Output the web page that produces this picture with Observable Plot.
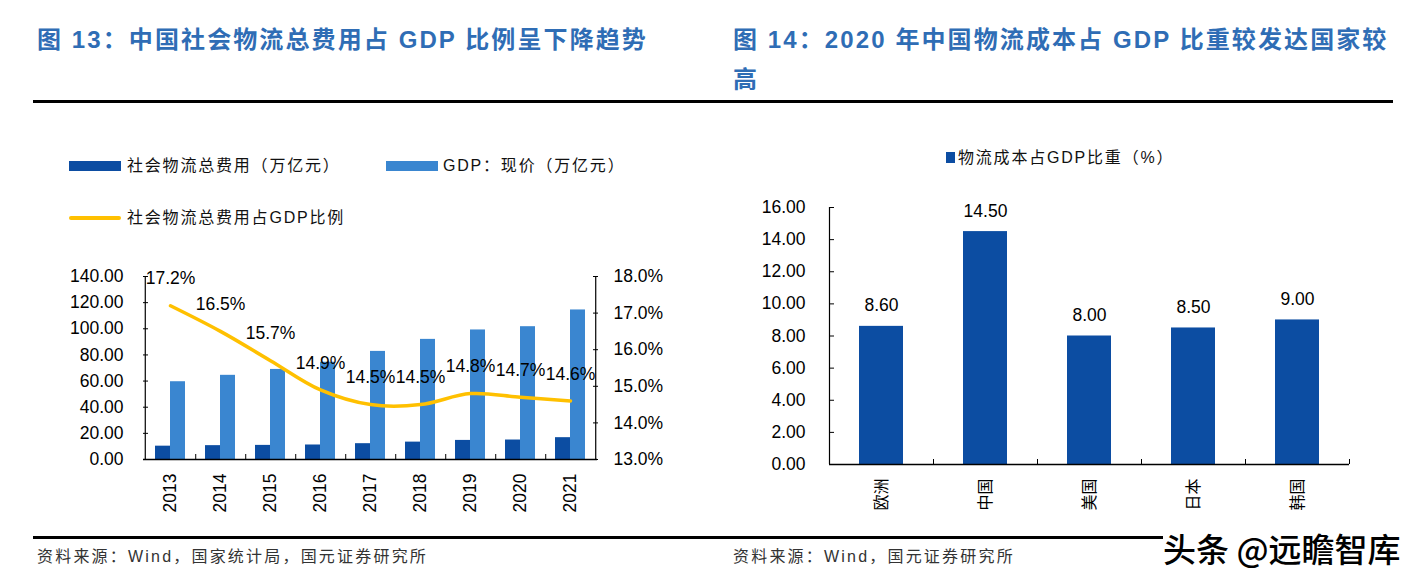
<!DOCTYPE html>
<html>
<head>
<meta charset="utf-8">
<script src="https://cdn.jsdelivr.net/npm/d3@7"></script>
<script src="https://cdn.jsdelivr.net/npm/@observablehq/plot@0.6"></script>
<style>
  body { margin: 0; background: #fff; }
  #root { position: relative; width: 1411px; height: 587px; overflow: hidden; background: #fff;
          font-family: "Liberation Sans", "Noto Sans CJK SC", sans-serif; }
  .abs { position: absolute; white-space: nowrap; line-height: 1; }
  .title { font-weight: bold; font-size: 24px; color: #2F6DB5; letter-spacing: 2.1px; }
  .legend { font-size: 16px; color: #111; letter-spacing: 1.8px; }
  .caption { font-size: 16px; color: #333; letter-spacing: 2.2px; }
  .rule { position: absolute; background: #000; }
  .wm { font-size: 33px; color: #000; font-family: "Noto Sans CJK SC", sans-serif; font-weight: 500;
        text-shadow: 0 0 2px #fff, 0 0 2px #fff, 0 0 3px #fff; }
  svg { overflow: visible; }
</style>
</head>
<body>
<div id="root">
  <div class="abs title" style="left:37px; top:28px;">图 13：中国社会物流总费用占 GDP 比例呈下降趋势</div>
  <div class="abs title" style="left:733px; top:28px;">图 14：2020 年中国物流成本占 GDP 比重较发达国家较</div>
  <div class="abs title" style="left:733px; top:68px;">高</div>
  <div class="rule" style="left:33px; top:100px; width:1360px; height:3px;"></div>

  <div class="abs" style="left:69px; top:161px; width:52px; height:10px; background:#0C4DA2;"></div>
  <div class="abs legend" style="left:127px; top:158px;">社会物流总费用（万亿元）</div>
  <div class="abs" style="left:386px; top:161px; width:52px; height:10px; background:#3A86D0;"></div>
  <div class="abs legend" style="left:443px; top:158px;">GDP：现价（万亿元）</div>
  <div class="abs" style="left:69px; top:216px; width:52px; height:4px; background:#FFC000; border-radius:2px;"></div>
  <div class="abs legend" style="left:127px; top:210px;">社会物流总费用占GDP比例</div>

  <div class="abs" style="left:946px; top:152px; width:9px; height:11px; background:#0C4DA2;"></div>
  <div class="abs legend" style="left:958px; top:150px;">物流成本占GDP比重（%）</div>

  <div id="left" class="abs" style="left:0px; top:250px;"></div>
  <div id="right" class="abs" style="left:705px; top:190px;"></div>

  <div class="rule" style="left:33px; top:536px; width:1130px; height:3px;"></div>
  <div class="abs caption" style="left:37px; top:549px;">资料来源：Wind，国家统计局，国元证券研究所</div>
  <div class="abs caption" style="left:733px; top:549px;">资料来源：Wind，国元证券研究所</div>
  <div class="abs wm" style="left:1163px; top:532px;">头条 @远瞻智库</div>
</div>
<script>
// ---------- Data: 图13 ----------
const years = ["2013", "2014", "2015", "2016", "2017", "2018", "2019", "2020", "2021"];
const logisticsCost = [10.2, 10.6, 10.8, 11.1, 12.1, 13.3, 14.6, 14.9, 16.7];      // 社会物流总费用（万亿元）
const gdpValues = [59.5, 64.4, 68.9, 74.4, 82.7, 91.9, 99.1, 101.6, 114.4];      // GDP：现价（万亿元）
const costRatio = [17.2, 16.5, 15.7, 14.9, 14.5, 14.5, 14.8, 14.7, 14.6];          // 社会物流总费用占GDP比例（%）
const leftTicks = [0, 20, 40, 60, 80, 100, 120, 140];
const rightTicks = [13, 14, 15, 16, 17, 18];

// ---------- Data: 图14 ----------
const countries = ["欧洲", "中国", "美国", "日本", "韩国"];
const shares = [8.6, 14.5, 8.0, 8.5, 9.0];                                        // 物流成本占GDP比重（%）
const shareTicks = [0, 2, 4, 6, 8, 10, 12, 14, 16];

const DARK = "#0C4DA2", LIGHT = "#3A86D0", GOLD = "#FFC000";
const LATIN = "Liberation Sans, Arial, sans-serif";
const CJK = "Noto Sans CJK SC, sans-serif";

// map right-axis percent onto left-axis domain (dual axis)
const rMin = rightTicks[0], rMax = rightTicks[rightTicks.length - 1];
const lMax = leftTicks[leftTicks.length - 1];
const toLeft = p => (p - rMin) / (rMax - rMin) * lMax;
const toRight = v => rMin + v / lMax * (rMax - rMin);

const rows = years.map((y, i) => ({year: y, cost: logisticsCost[i], gdp: gdpValues[i], ratio: costRatio[i], r: toLeft(costRatio[i])}));

{
  const W = 705, H = 290, mL = 143, mR = 108, mT = 26, mB = 81;
  const step = (W - mL - mR) / years.length;
  const padInner = 0.405;
  const bw = step * (1 - padInner);
  const chart = Plot.plot({
    width: W, height: H, marginLeft: mL, marginRight: mR, marginTop: mT, marginBottom: mB,
    style: {fontFamily: LATIN, fontSize: "17.5px", color: "#000", background: "transparent", overflow: "visible"},
    x: {domain: years, paddingInner: padInner, paddingOuter: padInner / 2, label: null},
    y: {domain: [0, lMax], label: null},
    marks: [
      Plot.barY(rows, {x: "year", y: "cost", fill: DARK, insetRight: bw / 2}),
      Plot.barY(rows, {x: "year", y: "gdp", fill: LIGHT, insetLeft: bw / 2}),
      Plot.ruleY([0], {stroke: "#000", strokeWidth: 1.5}),
      Plot.ruleX([years[0]], {dx: -step / 2, y1: 0, y2: lMax, stroke: "#000", strokeWidth: 1.2}),
      Plot.ruleX([years[years.length - 1]], {dx: step / 2, y1: 0, y2: lMax, stroke: "#000", strokeWidth: 1.2}),
      Plot.ruleX(years.slice(0, -1), {dx: step / 2, y1: 0, y2: 0, insetTop: -5, stroke: "#000"}),
      Plot.line(rows, {x: "year", y: "r", stroke: GOLD, strokeWidth: 3.5, curve: "catmull-rom"}),
      Plot.text(rows, {x: "year", y: "r", text: d => d.ratio.toFixed(1) + "%", dy: -27, fontSize: 17.5, fill: "#000"}),
      Plot.axisY({anchor: "left", label: null, ticks: leftTicks, tickFormat: d => d.toFixed(2), tickSize: -5, tickPadding: 25, fontSize: 17.5}),
      Plot.axisY({anchor: "right", label: null, ticks: rightTicks.map(toLeft), tickFormat: d => toRight(d).toFixed(1) + "%", tickSize: -5, tickPadding: 21, fontSize: 17.5}),
      Plot.axisX({anchor: "bottom", label: null, tickSize: 0, tickRotate: -90, tickPadding: 14, fontSize: 17.5})
    ]
  });
  document.getElementById("left").appendChild(chart);
}

{
  const crow = countries.map((c, i) => ({country: c, share: shares[i]}));
  const W = 706, H = 340, mL = 124, mR = 62, mT = 17, mB = 66;
  const step = (W - mL - mR) / countries.length;
  const padInner = 0.577;
  const yMax = shareTicks[shareTicks.length - 1];
  const chart = Plot.plot({
    width: W, height: H, marginLeft: mL, marginRight: mR, marginTop: mT, marginBottom: mB,
    style: {fontFamily: LATIN, fontSize: "17.5px", color: "#000", background: "transparent", overflow: "visible"},
    x: {domain: countries, paddingInner: padInner, paddingOuter: padInner / 2, label: null},
    y: {domain: [0, yMax], label: null},
    marks: [
      Plot.barY(crow, {x: "country", y: "share", fill: DARK}),
      Plot.text(crow, {x: "country", y: "share", text: d => d.share.toFixed(2), dy: -15, lineAnchor: "bottom", fontSize: 17.5, fill: "#000"}),
      Plot.ruleY([0], {stroke: "#000", strokeWidth: 1.5}),
      Plot.ruleX([countries[0]], {dx: -step / 2, y1: 0, y2: yMax, stroke: "#000", strokeWidth: 1.2}),
      Plot.ruleX(countries, {dx: step / 2, y1: 0, y2: 0, insetTop: -5, stroke: "#000"}),
      Plot.axisY({anchor: "left", label: null, ticks: shareTicks, tickFormat: d => d.toFixed(2), tickSize: -5, tickPadding: 29, fontSize: 17.5}),
      Plot.axisX({anchor: "bottom", label: null, tickSize: 0, tickRotate: -90, tickPadding: 14, fontSize: 16, fontFamily: CJK})
    ]
  });
  document.getElementById("right").appendChild(chart);
}
</script>
</body>
</html>
